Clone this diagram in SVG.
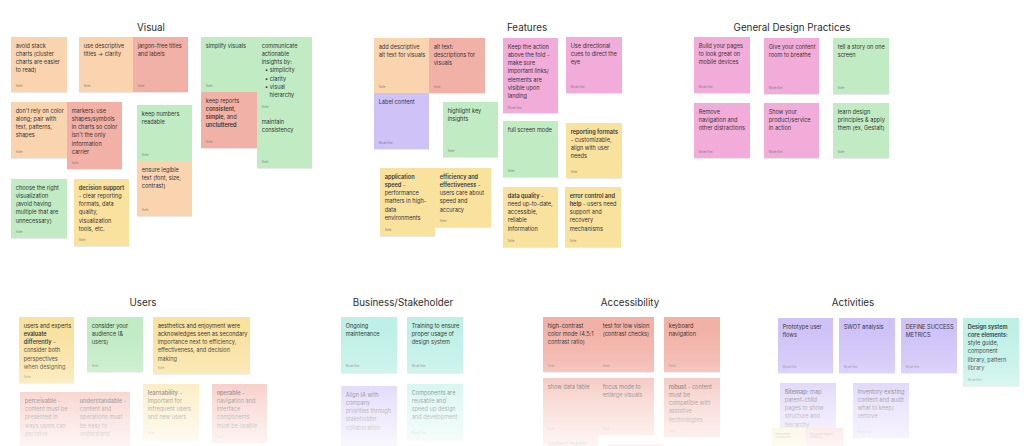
<svg xmlns="http://www.w3.org/2000/svg" width="1031" height="446" viewBox="0 0 1031 446">
<defs>
<filter id="sh" x="-10%" y="-10%" width="120%" height="130%"><feDropShadow dx="0" dy="0.6" stdDeviation="0.6" flood-color="#000" flood-opacity="0.14"/></filter>
<linearGradient id="fade" x1="0" y1="0" x2="0" y2="1">
<stop offset="0" stop-color="#fff" stop-opacity="0"/>
<stop offset="0.25" stop-color="#fff" stop-opacity="0.15"/>
<stop offset="0.6" stop-color="#fff" stop-opacity="0.55"/>
<stop offset="1" stop-color="#fff" stop-opacity="0.88"/>
</linearGradient>
</defs>
<style>
.n{filter:url(#sh)}
.or{fill:#F9D4AE}.rd{fill:#F2B1A6}.gr{fill:#C0EBC3}.ye{fill:#F9E19E}.pk{fill:#F2ACD9}.pu{fill:#CFC2F7}.te{fill:#BEF0E6}
.t{font-family:Inter,"Noto Sans",sans-serif;font-size:5.6px;fill:#363636}
.b{font-weight:600}
.a{font-family:Inter,"Noto Sans",sans-serif;font-size:2.8px;fill:#7c7c7c}
.h{font-family:Inter,"Noto Sans",sans-serif;font-size:9.8px;fill:#2e2e2e;text-anchor:middle}
</style>
<rect width="1031" height="446" fill="#fff"/>
<g id="titles">
<text class="h" x="151" y="30.5">Visual</text>
<text class="h" x="527" y="30.5">Features</text>
<text class="h" x="792" y="30.5">General Design Practices</text>
<text class="h" x="143" y="305.5">Users</text>
<text class="h" x="403" y="305.5">Business/Stakeholder</text>
<text class="h" x="630" y="305.5">Accessibility</text>
<text class="h" x="853" y="305.5">Activities</text>
</g>
<g id="connectors"/>
<!-- Visual -->
<g id="v1"><rect class="n or" x="11" y="37" width="56" height="55"/><text class="t" x="15.7" y="47.5">avoid stack<tspan x="15.7" dy="8.3">charts (cluster</tspan><tspan x="15.7" dy="8.3">charts are easier</tspan><tspan x="15.7" dy="8.3">to read)</tspan></text><text class="a" x="15.7" y="86.5">Sofie</text></g>
<g id="v2"><rect class="n or" x="79" y="37" width="54" height="55"/><text class="t" x="83.7" y="47.5">use descriptive<tspan x="83.7" dy="8.3">titles → clarity</tspan></text><text class="a" x="83.7" y="86.5">Sofie</text></g>
<g id="v3"><rect class="n rd" x="133" y="37" width="55" height="55"/><text class="t" x="137.7" y="47.5">jargon-free titles<tspan x="137.7" dy="8.3">and labels</tspan></text><text class="a" x="137.7" y="86.5">Sofie</text></g>
<g id="v4"><rect class="n or" x="11" y="102" width="56" height="56"/><text class="t" x="15.7" y="112.5">don't rely on color<tspan x="15.7" dy="8.3">along; pair with</tspan><tspan x="15.7" dy="8.3">text, patterns,</tspan><tspan x="15.7" dy="8.3">shapes</tspan></text><text class="a" x="15.7" y="152.5">Sofie</text></g>
<g id="v5"><rect class="n rd" x="67" y="102" width="55" height="67"/><text class="t" x="71.7" y="112.5">markers: use<tspan x="71.7" dy="8.3">shapes/symbols</tspan><tspan x="71.7" dy="8.3">in charts so color</tspan><tspan x="71.7" dy="8.3">isn't the only</tspan><tspan x="71.7" dy="8.3">information</tspan><tspan x="71.7" dy="8.3">carrier</tspan></text><text class="a" x="71.7" y="163.5">Sofie</text></g>
<g id="v6"><rect class="n gr" x="137" y="105" width="55" height="56"/><text class="t" x="141.7" y="115.5">keep numbers<tspan x="141.7" dy="8.3">readable</tspan></text><text class="a" x="141.7" y="155.5">Sofie</text></g>
<g id="v7"><rect class="n or" x="137" y="161" width="55" height="55"/><text class="t" x="141.7" y="171.5">ensure legible<tspan x="141.7" dy="8.3">text (font, size,</tspan><tspan x="141.7" dy="8.3">contrast)</tspan></text><text class="a" x="141.7" y="210.5">Sofie</text></g>
<g id="v8"><rect class="n gr" x="11" y="179" width="56" height="59"/><text class="t" x="15.7" y="189.5">choose the right<tspan x="15.7" dy="8.3">visualization</tspan><tspan x="15.7" dy="8.3">(avoid having</tspan><tspan x="15.7" dy="8.3">multiple that are</tspan><tspan x="15.7" dy="8.3">unnecessary)</tspan></text><text class="a" x="15.7" y="232.5">Sofie</text></g>
<g id="v9"><rect class="n ye" x="74" y="179" width="55" height="67"/><text class="t" x="78.7" y="189.5"><tspan class="b">decision support</tspan><tspan x="78.7" dy="8.3">- clear reporting</tspan><tspan x="78.7" dy="8.3">formats, data</tspan><tspan x="78.7" dy="8.3">quality,</tspan><tspan x="78.7" dy="8.3">visualization</tspan><tspan x="78.7" dy="8.3">tools, etc.</tspan></text><text class="a" x="78.7" y="240.5">Sofie</text></g>
<g id="v10"><rect class="n gr" x="201" y="37" width="56" height="55"/><text class="t" x="205.7" y="47.5">simplify visuals</text><text class="a" x="205.7" y="86.5">Sofie</text></g>
<g id="v11"><rect class="n gr" x="257" y="37" width="55" height="76"/><text class="t" x="261.7" y="47.5">communicate<tspan x="261.7" dy="8.3">actionable</tspan><tspan x="261.7" dy="8.3">insights by:</tspan><tspan x="265" dy="8.3">•  simplicity</tspan><tspan x="265" dy="8.3">•  clarity</tspan><tspan x="265" dy="8.3">•  visual</tspan><tspan x="269.5" dy="8.3">hierarchy</tspan></text><text class="a" x="261.7" y="107.5">Sofie</text></g>
<g id="v12"><rect class="n rd" x="201" y="92" width="56" height="56"/><text class="t" x="205.7" y="102.5">keep reports<tspan x="205.7" dy="8.3" class="b">consistent</tspan><tspan>,</tspan><tspan x="205.7" dy="8.3" class="b">simple</tspan><tspan>, and</tspan><tspan x="205.7" dy="8.3" class="b">uncluttered</tspan></text><text class="a" x="205.7" y="142.5">Sofie</text></g>
<g id="v13"><rect class="n gr" x="257" y="113" width="55" height="55"/><text class="t" x="261.7" y="123.5">maintain<tspan x="261.7" dy="8.3">consistency</tspan></text><text class="a" x="261.7" y="162.5">Sofie</text></g>
<!-- Features -->
<g id="f1"><rect class="n or" x="374" y="38" width="55" height="55"/><text class="t" x="378.7" y="48.5">add descriptive<tspan x="378.7" dy="8.3">alt text for visuals</tspan></text><text class="a" x="378.7" y="87.5">Sofie</text></g>
<g id="f2"><rect class="n rd" x="429" y="38" width="56" height="55"/><text class="t" x="433.7" y="48.5">alt text:<tspan x="433.7" dy="8.3">descriptions for</tspan><tspan x="433.7" dy="8.3">visuals</tspan></text><text class="a" x="433.7" y="87.5">Sofie</text></g>
<g id="f3"><rect class="n pu" x="374" y="93" width="55" height="56"/><text class="t" x="378.7" y="103.5">Label content</text><text class="a" x="378.7" y="143.5">Miyah Kim</text></g>
<g id="f4"><rect class="n gr" x="443" y="102" width="55" height="55"/><text class="t" x="447.7" y="112.5">highlight key<tspan x="447.7" dy="8.3">insights</tspan></text><text class="a" x="447.7" y="151.5">Sofie</text></g>
<g id="f5"><rect class="n ye" x="380" y="168" width="55" height="68"/><text class="t" x="384.7" y="178.5"><tspan class="b">application</tspan><tspan x="384.7" dy="8.3" class="b">speed</tspan><tspan> -</tspan><tspan x="384.7" dy="8.3">performance</tspan><tspan x="384.7" dy="8.3">matters in high-</tspan><tspan x="384.7" dy="8.3">data</tspan><tspan x="384.7" dy="8.3">environments</tspan></text><text class="a" x="384.7" y="230.5">Sofie</text></g>
<g id="f6"><rect class="n ye" x="435" y="168" width="56" height="59"/><text class="t" x="439.7" y="178.5"><tspan class="b">efficiency and</tspan><tspan x="439.7" dy="8.3" class="b">effectiveness</tspan><tspan> -</tspan><tspan x="439.7" dy="8.3">users care about</tspan><tspan x="439.7" dy="8.3">speed and</tspan><tspan x="439.7" dy="8.3">accuracy</tspan></text><text class="a" x="439.7" y="221.5">Sofie</text></g>
<g id="f7"><rect class="n pk" x="503" y="38" width="55" height="75"/><text class="t" x="507.7" y="48.5">Keep the action<tspan x="507.7" dy="8.3">above the fold -</tspan><tspan x="507.7" dy="8.3">make sure</tspan><tspan x="507.7" dy="8.3">important links/</tspan><tspan x="507.7" dy="8.3">elements are</tspan><tspan x="507.7" dy="8.3">visible upon</tspan><tspan x="507.7" dy="8.3">landing</tspan></text><text class="a" x="507.7" y="108.5">Miyah Kim</text></g>
<g id="f8"><rect class="n pk" x="566" y="37" width="56" height="56"/><text class="t" x="570.7" y="47.5">Use directional<tspan x="570.7" dy="8.3">cues to direct the</tspan><tspan x="570.7" dy="8.3">eye</tspan></text><text class="a" x="570.7" y="87.5">Miyah Kim</text></g>
<g id="f9"><rect class="n gr" x="503" y="121" width="55" height="56"/><text class="t" x="507.7" y="131.5">full screen mode</text><text class="a" x="507.7" y="171.5">Sofie</text></g>
<g id="f10"><rect class="n ye" x="566" y="123" width="56" height="55"/><text class="t" x="570.7" y="133.5"><tspan class="b">reporting formats</tspan><tspan x="570.7" dy="8.3">- customizable,</tspan><tspan x="570.7" dy="8.3">align with user</tspan><tspan x="570.7" dy="8.3">needs</tspan></text><text class="a" x="570.7" y="172.5">Sofie</text></g>
<g id="f11"><rect class="n ye" x="503" y="187" width="55" height="60"/><text class="t" x="507.7" y="197.5"><tspan class="b">data quality</tspan><tspan> -</tspan><tspan x="507.7" dy="8.3">need up-to-date,</tspan><tspan x="507.7" dy="8.3">accessible,</tspan><tspan x="507.7" dy="8.3">reliable</tspan><tspan x="507.7" dy="8.3">information</tspan></text><text class="a" x="507.7" y="241.5">Sofie</text></g>
<g id="f12"><rect class="n ye" x="565" y="187" width="56" height="60"/><text class="t" x="569.7" y="197.5"><tspan class="b">error control and</tspan><tspan x="569.7" dy="8.3" class="b">help</tspan><tspan> - users need</tspan><tspan x="569.7" dy="8.3">support and</tspan><tspan x="569.7" dy="8.3">recovery</tspan><tspan x="569.7" dy="8.3">mechanisms</tspan></text><text class="a" x="569.7" y="241.5">Sofie</text></g>
<!-- General Design Practices -->
<g id="g1"><rect class="n pk" x="694" y="37" width="56" height="56"/><text class="t" x="698.7" y="47.5">Build your pages<tspan x="698.7" dy="8.3">to look great on</tspan><tspan x="698.7" dy="8.3">mobile devices</tspan></text><text class="a" x="698.7" y="87.5">Miyah Kim</text></g>
<g id="g2"><rect class="n pk" x="764" y="38" width="55" height="56"/><text class="t" x="768.7" y="48.5">Give your content<tspan x="768.7" dy="8.3">room to breathe</tspan></text><text class="a" x="768.7" y="88.5">Miyah Kim</text></g>
<g id="g3"><rect class="n gr" x="833" y="38" width="56" height="56"/><text class="t" x="837.7" y="48.5">tell a story on one<tspan x="837.7" dy="8.3">screen</tspan></text><text class="a" x="837.7" y="88.5">Sofie</text></g>
<g id="g4"><rect class="n pk" x="694" y="103" width="56" height="55"/><text class="t" x="698.7" y="113.5">Remove<tspan x="698.7" dy="8.3">navigation and</tspan><tspan x="698.7" dy="8.3">other distractions</tspan></text><text class="a" x="698.7" y="152.5">Miyah Kim</text></g>
<g id="g5"><rect class="n pk" x="764" y="103" width="55" height="55"/><text class="t" x="768.7" y="113.5">Show your<tspan x="768.7" dy="8.3">product/service</tspan><tspan x="768.7" dy="8.3">in action</tspan></text><text class="a" x="768.7" y="152.5">Miyah Kim</text></g>
<g id="g6"><rect class="n gr" x="833" y="103" width="56" height="55"/><text class="t" x="837.7" y="113.5">learn design<tspan x="837.7" dy="8.3">principles &amp; apply</tspan><tspan x="837.7" dy="8.3">them (ex, Gestalt)</tspan></text><text class="a" x="837.7" y="152.5">Sofie</text></g>
<!-- Users -->
<g id="u1"><rect class="n ye" x="19" y="317" width="55" height="66"/><text class="t" x="23.7" y="327.5">users and experts<tspan x="23.7" dy="8.3" class="b">evaluate</tspan><tspan x="23.7" dy="8.3" class="b">differently</tspan><tspan> -</tspan><tspan x="23.7" dy="8.3">consider both</tspan><tspan x="23.7" dy="8.3">perspectives</tspan><tspan x="23.7" dy="8.3">when designing</tspan></text><text class="a" x="23.7" y="377.5">Sofie</text></g>
<g id="u2"><rect class="n gr" x="87" y="317" width="56" height="55"/><text class="t" x="91.7" y="327.5">consider your<tspan x="91.7" dy="8.3">audience (&amp;</tspan><tspan x="91.7" dy="8.3">users)</tspan></text><text class="a" x="91.7" y="366.5">Sofie</text></g>
<g id="u3"><rect class="n ye" x="153" y="317" width="97" height="57"/><text class="t" x="157.7" y="327.5">aesthetics and enjoyment were<tspan x="157.7" dy="8.3">acknowledges seen as secondary</tspan><tspan x="157.7" dy="8.3">importance next to efficiency,</tspan><tspan x="157.7" dy="8.3">effectiveness, and decision</tspan><tspan x="157.7" dy="8.3">making</tspan></text><text class="a" x="157.7" y="368.5">Sofie</text></g>
<g id="u4"><rect class="n rd" x="20" y="392" width="55" height="60"/><text class="t" x="24.7" y="402.8"><tspan class="b">perceivable</tspan><tspan> -</tspan><tspan x="24.7" dy="8.3">content must be</tspan><tspan x="24.7" dy="8.3">presented in</tspan><tspan x="24.7" dy="8.3">ways users can</tspan><tspan x="24.7" dy="8.3">perceive</tspan></text></g>
<g id="u5"><rect class="n rd" x="75" y="392" width="55" height="60"/><text class="t" x="79.7" y="402.8"><tspan class="b">understandable</tspan><tspan> -</tspan><tspan x="79.7" dy="8.3">content and</tspan><tspan x="79.7" dy="8.3">operations must</tspan><tspan x="79.7" dy="8.3">be easy to</tspan><tspan x="79.7" dy="8.3">understand</tspan></text></g>
<g id="u6"><rect class="n ye" x="143" y="384" width="56" height="56"/><text class="t" x="147.7" y="394.5"><tspan class="b">learnability</tspan><tspan> -</tspan><tspan x="147.7" dy="8.3">important for</tspan><tspan x="147.7" dy="8.3">infrequent users</tspan><tspan x="147.7" dy="8.3">and new users</tspan></text><text class="a" x="147.7" y="433.5">Sofie</text></g>
<g id="u7"><rect class="n rd" x="212" y="384" width="55" height="59"/><text class="t" x="216.7" y="394.5"><tspan class="b">operable</tspan><tspan> -</tspan><tspan x="216.7" dy="8.3">navigation and</tspan><tspan x="216.7" dy="8.3">interface</tspan><tspan x="216.7" dy="8.3">components</tspan><tspan x="216.7" dy="8.3">must be usable</tspan></text><text class="a" x="216.7" y="437.5">Sofie</text></g>
<!-- Business/Stakeholder -->
<g id="b1"><rect class="n te" x="341" y="317" width="56" height="56"/><text class="t" x="345.7" y="327.5">Ongoing<tspan x="345.7" dy="8.3">maintenance</tspan></text><text class="a" x="345.7" y="366.5">Miyah Kim</text></g>
<g id="b2"><rect class="n te" x="407" y="317" width="56" height="56"/><text class="t" x="411.7" y="327.5">Training to ensure<tspan x="411.7" dy="8.3">proper usage of</tspan><tspan x="411.7" dy="8.3">design system</tspan></text><text class="a" x="411.7" y="366.5">Miyah Kim</text></g>
<g id="b3"><rect class="n pu" x="341" y="386" width="56" height="62"/><text class="t" x="345.7" y="396.5">Align IA with<tspan x="345.7" dy="8.3">company</tspan><tspan x="345.7" dy="8.3">priorities through</tspan><tspan x="345.7" dy="8.3">stakeholder</tspan><tspan x="345.7" dy="8.3">collaboration</tspan></text></g>
<g id="b4"><rect class="n te" x="407" y="384" width="56" height="56"/><text class="t" x="411.7" y="394.5">Components are<tspan x="411.7" dy="8.3">reusable and</tspan><tspan x="411.7" dy="8.3">speed up design</tspan><tspan x="411.7" dy="8.3">and development</tspan></text><text class="a" x="411.7" y="433.5">Miyah Kim</text></g>
<!-- Accessibility -->
<g id="a1"><rect class="n rd" x="543" y="317" width="55" height="55"/><text class="t" x="547.7" y="327.5">high-contrast<tspan x="547.7" dy="8.3">color mode (4.5:1</tspan><tspan x="547.7" dy="8.3">contrast ratio)</tspan></text><text class="a" x="547.7" y="366.5">Sofie</text></g>
<g id="a2"><rect class="n rd" x="598" y="317" width="56" height="55"/><text class="t" x="602.7" y="327.5">test for low vision<tspan x="602.7" dy="8.3">(contrast checks)</tspan></text><text class="a" x="602.7" y="366.5">Sofie</text></g>
<g id="a3"><rect class="n rd" x="664" y="317" width="56" height="55"/><text class="t" x="668.7" y="327.5">keyboard<tspan x="668.7" dy="8.3">navigation</tspan></text><text class="a" x="668.7" y="366.5">Sofie</text></g>
<g id="a4"><rect class="n rd" x="543" y="378" width="55" height="57"/><text class="t" x="547.7" y="388.5">show data table</text><text class="a" x="547.7" y="429.5">Sofie</text></g>
<g id="a5"><rect class="n rd" x="598" y="378" width="56" height="57"/><text class="t" x="602.7" y="388.5">focus mode to<tspan x="602.7" dy="8.3">enlarge visuals</tspan></text><text class="a" x="602.7" y="429.5">Sofie</text></g>
<g id="a6"><rect class="n rd" x="664" y="378" width="56" height="59"/><text class="t" x="668.7" y="388.5"><tspan class="b">robust</tspan><tspan> - content</tspan><tspan x="668.7" dy="8.3">must be</tspan><tspan x="668.7" dy="8.3">compatible with</tspan><tspan x="668.7" dy="8.3">assistive</tspan><tspan x="668.7" dy="8.3">technologies</tspan></text><text class="a" x="668.7" y="431.5">Sofie</text></g>
<g id="a7"><rect class="n rd" x="543" y="435" width="55" height="14"/><text class="t" x="547.7" y="445.5">content reader</text></g>
<g id="a8"><rect class="n rd" x="608" y="444" width="55" height="5"/></g>
<!-- Activities -->
<g id="c1"><rect class="n pu" x="778" y="318" width="55" height="55"/><text class="t" x="782.7" y="328.5">Prototype user<tspan x="782.7" dy="8.3">flows</tspan></text><text class="a" x="782.7" y="367.5">Miyah Kim</text></g>
<g id="c2"><rect class="n pu" x="839" y="318" width="56" height="55"/><text class="t" x="843.7" y="328.5">SWOT analysis</text><text class="a" x="843.7" y="367.5">Miyah Kim</text></g>
<g id="c3"><rect class="n pu" x="901" y="318" width="56" height="55"/><text class="t" x="905.7" y="328.5">DEFINE SUCCESS<tspan x="905.7" dy="8.3">METRICS</tspan></text><text class="a" x="905.7" y="367.5">Miyah Kim</text></g>
<g id="c4"><rect class="n te" x="963" y="318" width="56" height="68"/><text class="t" x="967.7" y="328.5"><tspan class="b">Design system</tspan><tspan x="967.7" dy="8.3" class="b">core elements:</tspan><tspan x="967.7" dy="8.3">style guide,</tspan><tspan x="967.7" dy="8.3">component</tspan><tspan x="967.7" dy="8.3">library, pattern</tspan><tspan x="967.7" dy="8.3">library</tspan></text><text class="a" x="967.7" y="380.5">Miyah Kim</text></g>
<g id="c5"><rect class="n pu" x="780" y="383" width="56" height="60"/><text class="t" x="784.7" y="393.5"><tspan class="b">Sitemap:</tspan><tspan> map</tspan><tspan x="784.7" dy="8.3">parent-child</tspan><tspan x="784.7" dy="8.3">pages to show</tspan><tspan x="784.7" dy="8.3">structure and</tspan><tspan x="784.7" dy="8.3">hierarchy</tspan></text></g>
<g id="c6"><rect class="n pu" x="853" y="383" width="56" height="55"/><text class="t" x="857.7" y="393.5">Inventory existing<tspan x="857.7" dy="8.3">content and audit</tspan><tspan x="857.7" dy="8.3">what to keep/</tspan><tspan x="857.7" dy="8.3">remove</tspan></text><text class="a" x="857.7" y="432.5">Miyah Kim</text></g>
<g id="c7"><rect class="n ye" x="772" y="428" width="33" height="20"/><text class="a" x="775" y="434.5" style="fill:#2e2e2e">information<tspan x="775" dy="3.6">architecture</tspan><tspan x="775" dy="3.6">...</tspan></text></g>
<g id="c8"><rect class="n rd" x="807" y="428" width="36" height="20"/><text class="a" x="810" y="434.5" style="fill:#2e2e2e">has some organic<tspan x="810" dy="3.6">feedback</tspan></text></g>
<rect id="fadeout" x="0" y="330" width="1031" height="116" fill="url(#fade)"/>
</svg>
